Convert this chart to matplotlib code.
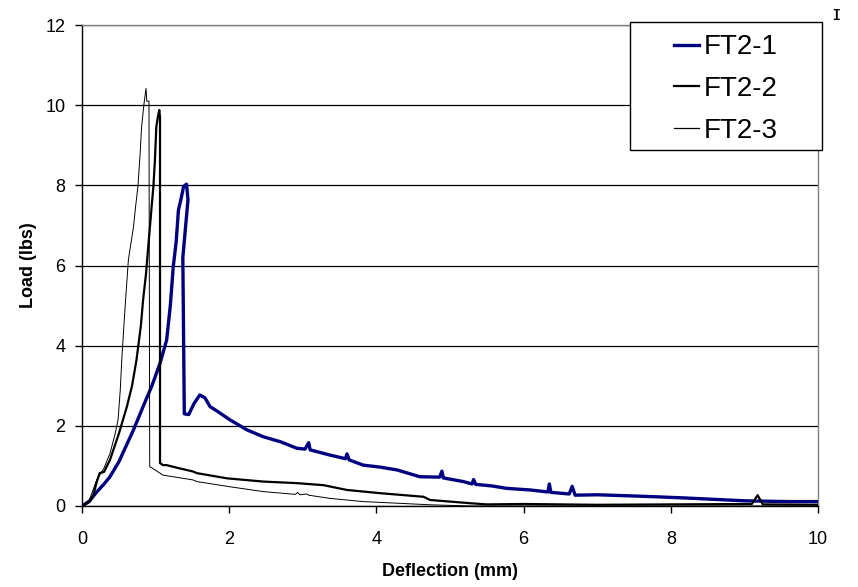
import matplotlib.pyplot as plt
from matplotlib.patches import Rectangle
from matplotlib.lines import Line2D

plt.rcParams['font.family'] = ['Liberation Sans', 'DejaVu Sans']

# FT2-1 (blue, thick)
ft1_x = [0, 0.1, 0.2, 0.3, 0.38, 0.5, 0.6, 0.7, 0.83, 0.95, 1.06, 1.15, 1.2, 1.24, 1.28,
         1.31, 1.35, 1.38, 1.42, 1.44, 1.37, 1.39, 1.45, 1.52, 1.60, 1.67, 1.74, 1.85,
         2.01, 2.24, 2.46, 2.7, 2.92, 3.03, 3.08, 3.10, 3.37, 3.58, 3.60, 3.63, 3.82,
         4.05, 4.28, 4.59, 4.86, 4.89, 4.91, 5.18, 5.30, 5.32, 5.35, 5.57, 5.77, 6.09,
         6.33, 6.35, 6.37, 6.62, 6.66, 6.70, 7.0, 7.5, 7.8, 8.2, 8.54, 9.0, 9.28, 9.6, 10]
ft1_y = [0, 0.12, 0.35, 0.55, 0.73, 1.1, 1.5, 1.9, 2.48, 3.0, 3.56, 4.14, 5.0, 5.97, 6.6,
         7.38, 7.7, 7.97, 8.03, 7.64, 6.2, 2.3, 2.28, 2.55, 2.77, 2.70, 2.48, 2.35,
         2.15, 1.90, 1.73, 1.60, 1.44, 1.42, 1.58, 1.40, 1.27, 1.18, 1.30, 1.15, 1.02,
         0.97, 0.90, 0.73, 0.72, 0.87, 0.70, 0.61, 0.55, 0.66, 0.54, 0.50, 0.44, 0.40,
         0.35, 0.55, 0.34, 0.30, 0.49, 0.27, 0.28, 0.25, 0.23, 0.20, 0.17, 0.13, 0.12, 0.11, 0.11]

# FT2-2 (black, medium)
ft2_x = [0, 0.1, 0.15, 0.2, 0.24, 0.3, 0.38, 0.5, 0.61, 0.68, 0.74, 0.8, 0.83, 0.87, 0.90,
         0.95, 0.97, 0.99, 1.01, 1.03, 1.05, 1.06, 1.06, 1.10, 1.15, 1.3, 1.51, 1.56,
         1.97, 2.46, 2.92, 3.28, 3.60, 4.05, 4.64, 4.73, 5.27, 5.5, 6.0, 7.0, 8.0, 9.1,
         9.18, 9.25, 10]
ft2_y = [0, 0.1, 0.25, 0.6, 0.82, 0.85, 1.15, 1.8, 2.48, 3.0, 3.64, 4.5, 5.14, 5.8, 6.47,
         7.55, 7.97, 8.6, 9.46, 9.7, 9.88, 9.7, 1.07, 1.02, 1.02, 0.95, 0.86, 0.82,
         0.69, 0.61, 0.57, 0.52, 0.40, 0.32, 0.23, 0.15, 0.07, 0.04, 0.05, 0.03, 0.04, 0.05,
         0.27, 0.04, 0.03]

# FT2-3 (black, thin)
ft3_x = [0, 0.1, 0.20, 0.3, 0.38, 0.45, 0.49, 0.52, 0.54, 0.58, 0.63, 0.70, 0.73, 0.76,
         0.79, 0.81, 0.84, 0.87, 0.88, 0.91, 0.92, 0.95, 1.06, 1.10, 1.51, 1.56, 2.01,
         2.46, 2.90, 2.93, 2.96, 3.05, 3.08, 3.37, 3.82, 4.28, 4.73, 5.3, 10]
ft3_y = [0, 0.15, 0.65, 0.95, 1.31, 1.8, 2.15, 2.9, 3.64, 4.81, 6.14, 6.97, 7.5, 7.97,
         8.8, 9.46, 10.0, 10.42, 10.1, 10.1, 0.98, 0.95, 0.82, 0.77, 0.65, 0.61, 0.48,
         0.36, 0.29, 0.34, 0.28, 0.30, 0.27, 0.19, 0.11, 0.07, 0.03, 0.0, 0.0]

labels = ['FT2-1', 'FT2-2', 'FT2-3']
colors = ['#000080', 'black', 'black']
widths = [2.4, 1.6, 0.7]

fig = plt.figure(figsize=(8.58, 5.87), dpi=100)
ax = fig.add_axes([82 / 858, 81 / 587, 736 / 858, 481 / 587])

ax.plot(ft1_x, ft1_y, color=colors[0], lw=widths[0], solid_joinstyle='round', zorder=3)
ax.plot(ft2_x, ft2_y, color=colors[1], lw=widths[1], zorder=4)
ax.plot(ft3_x, ft3_y, color=colors[2], lw=widths[2], zorder=5)

ax.set_xlim(0, 10)
ax.set_ylim(0, 12)
ax.set_xticks([0, 2, 4, 6, 8, 10])
ax.set_yticks([0, 2, 4, 6, 8, 10, 12])
ax.yaxis.grid(True, color='black', lw=0.9)
ax.set_axisbelow(True)
ax.tick_params(direction='out', length=5, width=1, labelsize=13)
ax.tick_params(axis='x', pad=13)
ax.tick_params(axis='y', pad=7)
for s in ['left', 'bottom']:
    ax.spines[s].set_color('black')
    ax.spines[s].set_linewidth(1)
for s in ['top', 'right']:
    ax.spines[s].set_color('#808080')
    ax.spines[s].set_linewidth(1)

ax.set_xlabel('Deflection (mm)', fontsize=13, fontweight='bold', labelpad=11)
ax.set_ylabel('Load (lbs)', fontsize=13, fontweight='bold', labelpad=6)

# legend box
fig.patches.append(Rectangle((630 / 858, 1 - 150 / 587), 192 / 858, 128 / 587,
                             transform=fig.transFigure, facecolor='white',
                             edgecolor='black', lw=1, zorder=6))
handles = [Line2D([], [], color=c, lw=w) for c, w in zip(colors, [2.4, 1.6, 0.9])]
leg = fig.legend(handles, labels, loc='center', bbox_to_anchor=(726 / 858, 1 - 89 / 587),
                 frameon=False, fontsize=20, handlelength=0.9, handletextpad=0.15,
                 labelspacing=0.56, borderpad=0.2)
leg.set_zorder(7)

fig.text(836 / 858, 1 - 14 / 587, 'ɪ', fontsize=15, ha='center', va='center')

fig.savefig('out.png', dpi=100)
